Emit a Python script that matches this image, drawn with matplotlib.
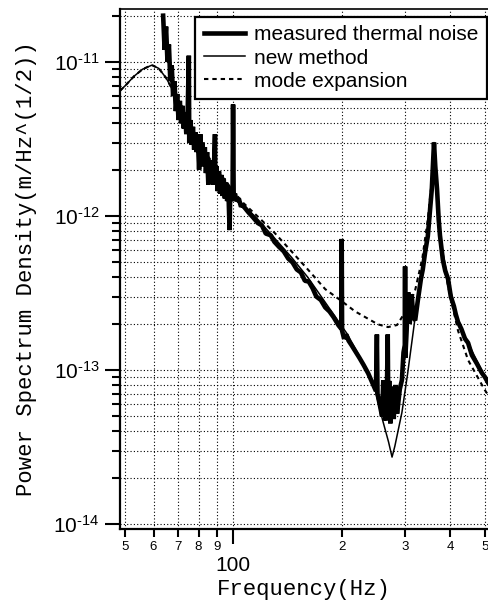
import matplotlib
matplotlib.use("Agg")
import matplotlib.pyplot as plt
from matplotlib.ticker import FixedLocator, FixedFormatter, NullFormatter

plt.rcParams['font.family'] = ['Liberation Sans', 'DejaVu Sans']
plt.rcParams['mathtext.fontset'] = 'custom'
plt.rcParams['mathtext.rm'] = 'Liberation Sans'

# ---- data ----
meas_f = [63.8, 64.4, 65.0, 65.6, 66.2, 66.8, 67.4, 68.0, 68.6, 69.2, 69.8, 70.4, 71.0, 71.6,
          72.2, 72.8, 73.4, 74.0, 74.6, 75.2, 75.4, 76.0, 76.6, 77.2, 77.8, 78.4, 79.0, 79.6,
          80.3, 80.9, 81.5, 82.1, 82.7, 83.3, 83.9, 84.5, 85.2, 85.9, 86.6, 87.3, 88.0, 88.9,
          89.1, 89.8, 90.5, 91.2, 91.9, 92.6, 93.3, 94.0, 94.7, 95.4, 96.1, 96.8, 97.6, 98.0,
          98.7, 99.5, 99.8, 100.2, 101, 102, 103.5, 105, 106,
          110, 113, 117, 120, 123, 127, 130, 134, 138, 142,
          146, 150, 154, 158, 162, 166, 170, 175, 180, 185, 190, 196, 199.5, 200, 200.5, 203,
          206, 209, 213, 218, 224, 230, 237, 243, 249, 250.5, 251.5, 255, 259, 261, 263, 265,
          267, 268.5, 269.5, 271, 273, 276, 279, 282, 285, 290, 294, 297, 299.5, 300, 300.5,
          303, 306, 309, 313, 316, 320, 326, 332, 336, 341, 347, 352, 356, 358.5, 361, 364,
          368, 372, 375, 382, 388, 395, 402, 410, 415, 421, 430, 440, 449, 460, 475, 490, 500, 510]
meas_y = [2.0e-11, 1.2e-11, 1.7e-11, 1.0e-11, 1.3e-11, 7.5e-12, 9.5e-12, 6.0e-12, 7.5e-12, 4.8e-12,
          6.2e-12, 4.2e-12, 5.6e-12, 4.0e-12, 5.2e-12, 3.7e-12, 4.7e-12, 3.4e-12, 4.4e-12, 1.1e-11,
          3.0e-12, 4.2e-12, 2.9e-12, 3.8e-12, 2.7e-12, 3.5e-12, 2.6e-12, 3.3e-12, 2.0e-12, 3.4e-12,
          2.3e-12, 3.0e-12, 2.1e-12, 2.8e-12, 1.9e-12, 2.6e-12, 1.6e-12, 2.3e-12, 1.7e-12, 2.2e-12,
          1.6e-12, 3.4e-12, 1.6e-12, 2.1e-12, 1.45e-12, 1.95e-12, 1.4e-12, 1.85e-12, 1.35e-12,
          1.75e-12, 1.3e-12, 1.65e-12, 1.25e-12, 1.55e-12, 8.1e-13, 1.45e-12, 1.25e-12, 1.45e-12,
          5.3e-12, 1.3e-12, 1.4e-12, 1.25e-12, 1.3e-12, 1.15e-12, 1.18e-12,
          1.06e-12, 9.9e-13, 9.0e-13, 8.7e-13, 7.7e-13, 7.5e-13, 6.8e-13, 6.3e-13, 5.9e-13, 5.3e-13,
          5.0e-13, 4.5e-13, 4.3e-13, 3.8e-13, 3.75e-13, 3.4e-13, 3.0e-13, 2.85e-13, 2.55e-13, 2.4e-13,
          2.2e-13, 1.95e-13, 1.85e-13, 7.1e-13, 1.8e-13, 1.6e-13, 1.7e-13, 1.55e-13, 1.45e-13,
          1.33e-13, 1.2e-13, 1.08e-13, 9.5e-14, 8.3e-14, 7.3e-14, 1.7e-13, 7.0e-14, 6.0e-14,
          5.0e-14, 8.6e-14, 5.2e-14, 4.7e-14, 7.0e-14, 1.7e-13, 5.0e-14, 8.5e-14, 4.5e-14, 7.8e-14,
          4.8e-14, 8.0e-14, 5.2e-14, 7.5e-14, 8.6e-14, 1.3e-13, 1.45e-13, 4.7e-13, 1.2e-13, 1.8e-13,
          3.2e-13, 2.0e-13, 3.1e-13, 2.2e-13, 2.1e-13, 2.9e-13, 3.9e-13, 4.5e-13, 5.8e-13, 7.4e-13,
          1.1e-12, 1.5e-12, 2.1e-12, 3.0e-12, 2.1e-12, 1.5e-12, 9.5e-13, 7.5e-13, 5.2e-13, 4.4e-13,
          3.9e-13, 3.0e-13, 2.6e-13, 2.3e-13, 2.05e-13, 1.85e-13, 1.6e-13, 1.5e-13, 1.25e-13,
          1.1e-13, 9.6e-14, 9.0e-14, 8.3e-14]

new_f = [48.4, 50, 53, 56, 59.4, 62, 65, 68, 72, 76, 80, 85, 90, 95, 100, 106, 117, 130, 145,
         161, 180, 195, 207, 218, 237, 247, 260, 270, 276, 281, 294, 305, 320, 341, 350, 356,
         361, 368, 375, 395, 421, 449, 500, 510]
new_y = [6.5e-12, 7.0e-12, 8.1e-12, 9.0e-12, 9.55e-12, 9.1e-12, 7.9e-12, 6.5e-12, 5.0e-12,
         3.9e-12, 3.1e-12, 2.4e-12, 1.95e-12, 1.6e-12, 1.38e-12, 1.2e-12, 9.5e-13, 7.2e-13,
         5.4e-13, 4.0e-13, 2.75e-13, 2.1e-13, 1.72e-13, 1.38e-13, 9.6e-14, 7.6e-14, 4.7e-14,
         3.4e-14, 2.72e-14, 3.2e-14, 5.3e-14, 9.5e-14, 2.2e-13, 5.8e-13, 1.05e-12, 1.6e-12,
         3.0e-12, 1.5e-12, 7.3e-13, 3.84e-13, 2.05e-13, 1.5e-13, 9.0e-14, 8.4e-14]

mode_f = [48.4, 50, 53, 56, 59.4, 62, 65, 68, 72, 76, 80, 85, 90, 95, 100, 106, 117, 130, 145,
          161, 180, 200, 218, 237, 252, 269, 285, 294, 307, 320, 335, 347, 356, 361, 368, 375,
          395, 421, 449, 500, 510]
mode_y = [6.5e-12, 7.0e-12, 8.1e-12, 9.0e-12, 9.55e-12, 9.1e-12, 7.9e-12, 6.5e-12, 5.0e-12,
          3.9e-12, 3.1e-12, 2.45e-12, 2.0e-12, 1.7e-12, 1.45e-12, 1.23e-12, 9.9e-13, 7.8e-13,
          5.9e-13, 4.5e-13, 3.35e-13, 2.8e-13, 2.4e-13, 2.15e-13, 1.98e-13, 1.9e-13, 1.96e-13,
          2.2e-13, 2.6e-13, 3.3e-13, 5.3e-13, 9.5e-13, 1.7e-12, 2.9e-12, 1.45e-12, 6.8e-13,
          3.5e-13, 1.8e-13, 1.16e-13, 7.4e-14, 6.9e-14]

x_major = [100]
x_major_labels = ["100"]
x_minor = [50, 60, 70, 80, 90, 200, 300, 400, 500]
x_minor_labels = ["5", "6", "7", "8", "9", "2", "3", "4", "5"]
y_major = [1e-14, 1e-13, 1e-12, 1e-11]
y_major_labels = [r"$\mathregular{10^{\text{-}14}}$", r"$\mathregular{10^{\text{-}13}}$",
                  r"$\mathregular{10^{\text{-}12}}$", r"$\mathregular{10^{\text{-}11}}$"]
y_minor = [m * d for d in [1e-15, 1e-14, 1e-13, 1e-12, 1e-11] for m in range(2, 10)]

labels = ["measured thermal noise", "new method", "mode expansion"]

# ---- figure ----
W, H = 488, 602
fig = plt.figure(figsize=(W / 100, H / 100), dpi=100)
ax = fig.add_axes([120 / W, (H - 529) / H, (488 - 120) / W, (529 - 9) / H])

ax.set_xscale('log')
ax.set_yscale('log')

ax.plot(meas_f, meas_y, color='black', lw=3.3, solid_joinstyle='bevel', label=labels[0], zorder=3)
ax.plot(new_f, new_y, color='black', lw=1.1, label=labels[1], zorder=4)
ax.plot(mode_f, mode_y, color='black', lw=1.5, linestyle=(0, (2.1, 1.9)), label=labels[2], zorder=4)

ax.set_xlim(48.41, 510)
ax.set_ylim(9.28e-15, 2.21e-11)

ax.xaxis.set_major_locator(FixedLocator(x_major))
ax.xaxis.set_major_formatter(FixedFormatter(x_major_labels))
ax.xaxis.set_minor_locator(FixedLocator(x_minor))
ax.xaxis.set_minor_formatter(FixedFormatter(x_minor_labels))
ax.yaxis.set_major_locator(FixedLocator(y_major))
ax.yaxis.set_major_formatter(FixedFormatter(y_major_labels))
ax.yaxis.set_minor_locator(FixedLocator(y_minor))
ax.yaxis.set_minor_formatter(NullFormatter())

ax.tick_params(axis='x', which='major', direction='out', length=10.5, width=1.5, labelsize=15, pad=9)
ax.tick_params(axis='x', which='minor', direction='out', length=6, width=1.5, labelsize=9.5, pad=3)
ax.tick_params(axis='y', which='major', direction='out', length=10.8, width=1.5, labelsize=15, pad=4)
ax.tick_params(axis='y', which='minor', direction='out', length=6, width=1.5)

ax.grid(which='both', color='black', linestyle=(0, (1, 2)), linewidth=0.8)

for s in ['left', 'bottom']:
    ax.spines[s].set_linewidth(1.6)
ax.spines['top'].set_linewidth(1.2)
ax.spines['right'].set_visible(False)

ax.set_xlabel("Frequency(Hz)", family=['Liberation Mono', 'DejaVu Sans Mono'], fontsize=16)
ax.set_ylabel("Power Spectrum Density(m/Hz^(1/2))", family=['Liberation Mono', 'DejaVu Sans Mono'], fontsize=16)
ax.xaxis.set_label_coords(0.5, (529 - 590) / 520)
ax.xaxis.label.set_va('center')
ax.yaxis.set_label_coords((27 - 120) / 368, 0.5)
ax.yaxis.label.set_va('center')

leg = ax.legend(loc='upper right', bbox_to_anchor=(487 / W, 1 - 17 / H), bbox_transform=fig.transFigure,
                fontsize=15, frameon=True, fancybox=False, framealpha=1, edgecolor='black',
                handlelength=2.0, handletextpad=0.43, labelspacing=0.2, borderpad=0.4,
                borderaxespad=0)
leg.get_frame().set_linewidth(1.6)
leg.set_zorder(10)

fig.savefig("out.png", dpi=100)
